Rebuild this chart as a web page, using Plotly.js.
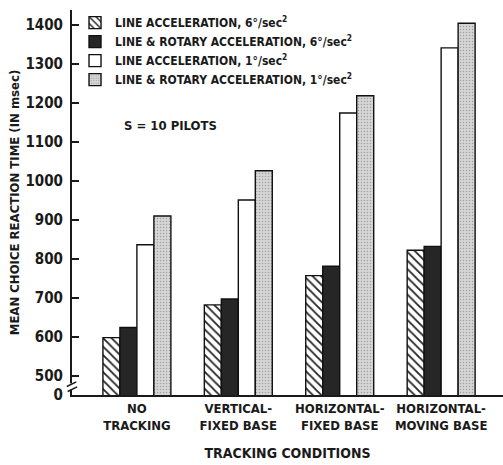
<!DOCTYPE html>
<html><head><meta charset="utf-8">
<script src="https://cdn.plot.ly/plotly-3.0.1.min.js"></script>
<style>html,body{margin:0;padding:0;background:#fff;}#chart{width:503px;height:465px;}</style>
</head><body><div id="chart"></div>
<script>
// Data
const categories = ["NO<br>TRACKING", "VERTICAL-<br>FIXED BASE", "HORIZONTAL-<br>FIXED BASE", "HORIZONTAL-<br>MOVING BASE"];
const seriesNames = [
  "LINE ACCELERATION, 6°/sec<sup>2</sup>",
  "LINE & ROTARY ACCELERATION, 6°/sec<sup>2</sup>",
  "LINE ACCELERATION, 1°/sec<sup>2</sup>",
  "LINE & ROTARY ACCELERATION, 1°/sec<sup>2</sup>"
];
const lineAccel6 = [598, 682, 757, 822];
const lineRotary6 = [624, 697, 781, 832];
const lineAccel1 = [836, 951, 1174, 1341];
const lineRotary1 = [910, 1026, 1218, 1404];
const yTickVals = [451, 500, 600, 700, 800, 900, 1000, 1100, 1200, 1300, 1400];
const yTickText = ["0", "500", "600", "700", "800", "900", "1000", "1100", "1200", "1300", "1400"];

const FONT = "DejaVu Sans Condensed, Liberation Sans Narrow, Arial Narrow, DejaVu Sans, sans-serif";
const outline = {color: "#111", width: 1.4};

const traces = [
  {x: categories, y: lineAccel6, name: seriesNames[0], type: "bar",
   marker: {color: "#ffffff", line: outline,
            pattern: {shape: "\\", fgcolor: "#222", bgcolor: "#ffffff", size: 6, solidity: 0.3}}},
  {x: categories, y: lineRotary6, name: seriesNames[1], type: "bar",
   marker: {color: "#262626", line: outline}},
  {x: categories, y: lineAccel1, name: seriesNames[2], type: "bar",
   marker: {color: "#ffffff", line: outline}},
  {x: categories, y: lineRotary1, name: seriesNames[3], type: "bar",
   marker: {color: "#cfcfcf", line: outline,
            pattern: {shape: ".", fgcolor: "#a0a0a0", bgcolor: "#d6d6d6", size: 3, solidity: 0.2}}}
];

const layout = {
  width: 503, height: 465,
  margin: {l: 72, r: 0, t: 10, b: 70},
  paper_bgcolor: "#ffffff", plot_bgcolor: "#ffffff",
  font: {family: FONT, size: 13, color: "#1a1a1a", weight: 700},
  barmode: "group", bargap: 0.33, bargroupgap: 0,
  showlegend: true,
  legend: {x: 0.007, y: 1.005, xanchor: "left", yanchor: "top", bgcolor: "rgba(0,0,0,0)",
           font: {family: FONT, size: 12, weight: 700}, tracegroupgap: 0},
  xaxis: {type: "category", range: [-0.64, 3.61], showline: true, linecolor: "#1a1a1a", linewidth: 2,
          ticks: "", showgrid: false, zeroline: false,
          tickfont: {family: FONT, size: 13, weight: 700},
          title: {text: "TRACKING CONDITIONS", font: {family: FONT, size: 14, weight: 700}, standoff: 17}},
  yaxis: {range: [451, 1438], showline: true, linecolor: "#1a1a1a", linewidth: 2,
          ticks: "inside", ticklen: 7, tickwidth: 1.5, tickcolor: "#1a1a1a",
          tickvals: yTickVals, ticktext: yTickText, showgrid: false, zeroline: false,
          tickfont: {family: FONT, size: 15, weight: 700}, ticklabelstandoff: 4,
          title: {text: "MEAN CHOICE REACTION TIME (IN msec)", font: {family: FONT, size: 13, weight: 700}, standoff: 3}},
  shapes: [
    {type: "rect", xref: "paper", yref: "paper", x0: -0.008, x1: 0.008, y0: 0.014, y1: 0.030,
     fillcolor: "#ffffff", line: {width: 0}, layer: "above"},
    {type: "line", xref: "paper", yref: "paper", x0: -0.012, x1: 0.010, y0: 0.022, y1: 0.034,
     line: {color: "#1a1a1a", width: 1.5}, layer: "above"},
    {type: "line", xref: "paper", yref: "paper", x0: -0.010, x1: 0.012, y0: 0.009, y1: 0.021,
     line: {color: "#1a1a1a", width: 1.5}, layer: "above"}
  ],
  annotations: [
    {text: "S = 10 PILOTS", xref: "paper", yref: "paper", x: 0.115, y: 0.725, xanchor: "left",
     showarrow: false, font: {family: FONT, size: 13, weight: 700}}
  ]
};

Plotly.newPlot("chart", traces, layout, {displayModeBar: false, staticPlot: true});
</script>
</body></html>
